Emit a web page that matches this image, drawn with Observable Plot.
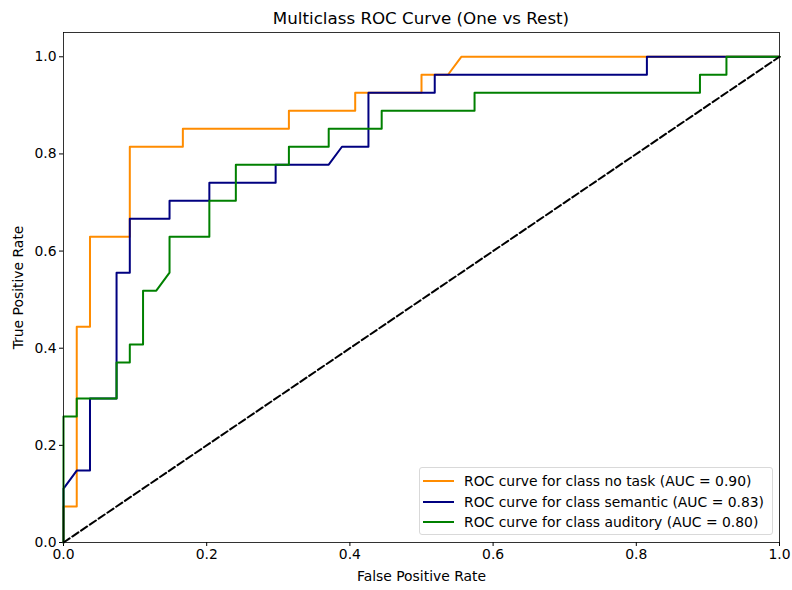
<!DOCTYPE html>
<html><head><meta charset="utf-8">
<script src="https://cdn.jsdelivr.net/npm/d3@7"></script>
<script src="https://cdn.jsdelivr.net/npm/@observablehq/plot@0.6"></script>
<style>
body{margin:0;background:#fff;font-family:"DejaVu Sans",sans-serif;}
#wrap{position:relative;width:792px;height:590px;overflow:hidden;}
#title{position:absolute;left:63px;top:8px;width:716px;text-align:center;font-size:16.7px;line-height:20px;color:#000;}
#chart{position:absolute;left:0;top:28px;}
#legend{position:absolute;left:419px;top:467px;width:354px;height:68px;border:1px solid #d9d9d9;border-radius:3px;background:rgba(255,255,255,0.85);box-sizing:border-box;}
.row{position:absolute;left:0;height:20px;display:flex;align-items:center;font-size:13.9px;color:#000;white-space:nowrap;}
.sw{width:31px;height:0;border-top:2px solid;margin-left:3px;margin-right:10px;}
</style></head>
<body><div id="wrap"><div id="title">Multiclass ROC Curve (One vs Rest)</div><div id="chart"></div><div id="legend"></div></div>
<script>
const classNames = ["no task", "semantic", "auditory"];
const aucValues = [0.90, 0.83, 0.80];
const colors = ["#ff8c00", "#000080", "#008000"];

const fprNoTask = [0, 0, 0.0185, 0.0185, 0.037, 0.037, 0.0926, 0.0926, 0.1667, 0.1667, 0.3148, 0.3148, 0.4074, 0.4074, 0.5, 0.5, 0.537, 0.5556, 1];
const tprNoTask = [0, 0.0741, 0.0741, 0.4444, 0.4444, 0.6296, 0.6296, 0.8148, 0.8148, 0.8519, 0.8519, 0.8889, 0.8889, 0.9259, 0.9259, 0.963, 0.963, 1, 1];

const fprSemantic = [0, 0, 0.0185, 0.037, 0.037, 0.0741, 0.0741, 0.0926, 0.0926, 0.1481, 0.1481, 0.2037, 0.2037, 0.2963, 0.2963, 0.3704, 0.3889, 0.4259, 0.4259, 0.5185, 0.5185, 0.8148, 0.8148, 1];
const tprSemantic = [0, 0.1111, 0.1481, 0.1481, 0.2963, 0.2963, 0.5556, 0.5556, 0.6667, 0.6667, 0.7037, 0.7037, 0.7407, 0.7407, 0.7778, 0.7778, 0.8148, 0.8148, 0.9259, 0.9259, 0.963, 0.963, 1, 1];

const fprAuditory = [0, 0, 0.0185, 0.0185, 0.0741, 0.0741, 0.0926, 0.0926, 0.1111, 0.1111, 0.1296, 0.1481, 0.1481, 0.2037, 0.2037, 0.2407, 0.2407, 0.3148, 0.3148, 0.3704, 0.3704, 0.4444, 0.4444, 0.5741, 0.5741, 0.8889, 0.8889, 0.9259, 0.9259, 1];
const tprAuditory = [0, 0.2593, 0.2593, 0.2963, 0.2963, 0.3704, 0.3704, 0.4074, 0.4074, 0.5185, 0.5185, 0.5556, 0.6296, 0.6296, 0.7037, 0.7037, 0.7778, 0.7778, 0.8148, 0.8148, 0.8519, 0.8519, 0.8889, 0.8889, 0.9259, 0.9259, 0.963, 0.963, 1, 1];

const chanceX = [0, 1];
const chanceY = [0, 1];
const tickValues = [0, 0.2, 0.4, 0.6, 0.8, 1.0];

const series = [[fprNoTask, tprNoTask], [fprSemantic, tprSemantic], [fprAuditory, tprAuditory]];
const lines = series.map(([f, t], i) => Plot.line(f.map((x, j) => ({x, y: t[j]})), {x: "x", y: "y", stroke: colors[i], strokeWidth: 2}));
const chance = chanceX.map((x, j) => ({x, y: chanceY[j]}));

const fmt = d3.format(".1f");
const plot = Plot.plot({
  width: 792, height: 562,
  marginLeft: 63, marginRight: 13, marginTop: 4, marginBottom: 48,
  style: {fontFamily: "DejaVu Sans, sans-serif", fontSize: "13.9px", color: "#000", background: "#fff"},
  x: {domain: [0, 1], ticks: tickValues, tickFormat: fmt, tickSize: 4, tickPadding: 3, label: "False Positive Rate", labelAnchor: "center", labelArrow: "none", labelOffset: 38},
  y: {domain: [0, 1.05], ticks: tickValues, tickFormat: fmt, tickSize: 4, tickPadding: 3, label: "True Positive Rate", labelAnchor: "center", labelArrow: "none", labelOffset: 50},
  marks: [
    ...lines,
    Plot.line(chance, {x: "x", y: "y", stroke: "#000", strokeWidth: 2, strokeDasharray: "7.4,3.2"}),
    Plot.frame({stroke: "#000", strokeWidth: 0.8})
  ]
});
document.getElementById("chart").appendChild(plot);

const leg = document.getElementById("legend");
classNames.forEach((c, i) => {
  const r = document.createElement("div");
  r.className = "row";
  r.style.top = (3 + i * 20.5) + "px";
  r.innerHTML = `<span class="sw" style="border-color:${colors[i]}"></span><span>ROC curve for class ${c} (AUC = ${aucValues[i].toFixed(2)})</span>`;
  leg.appendChild(r);
});
</script></body></html>
